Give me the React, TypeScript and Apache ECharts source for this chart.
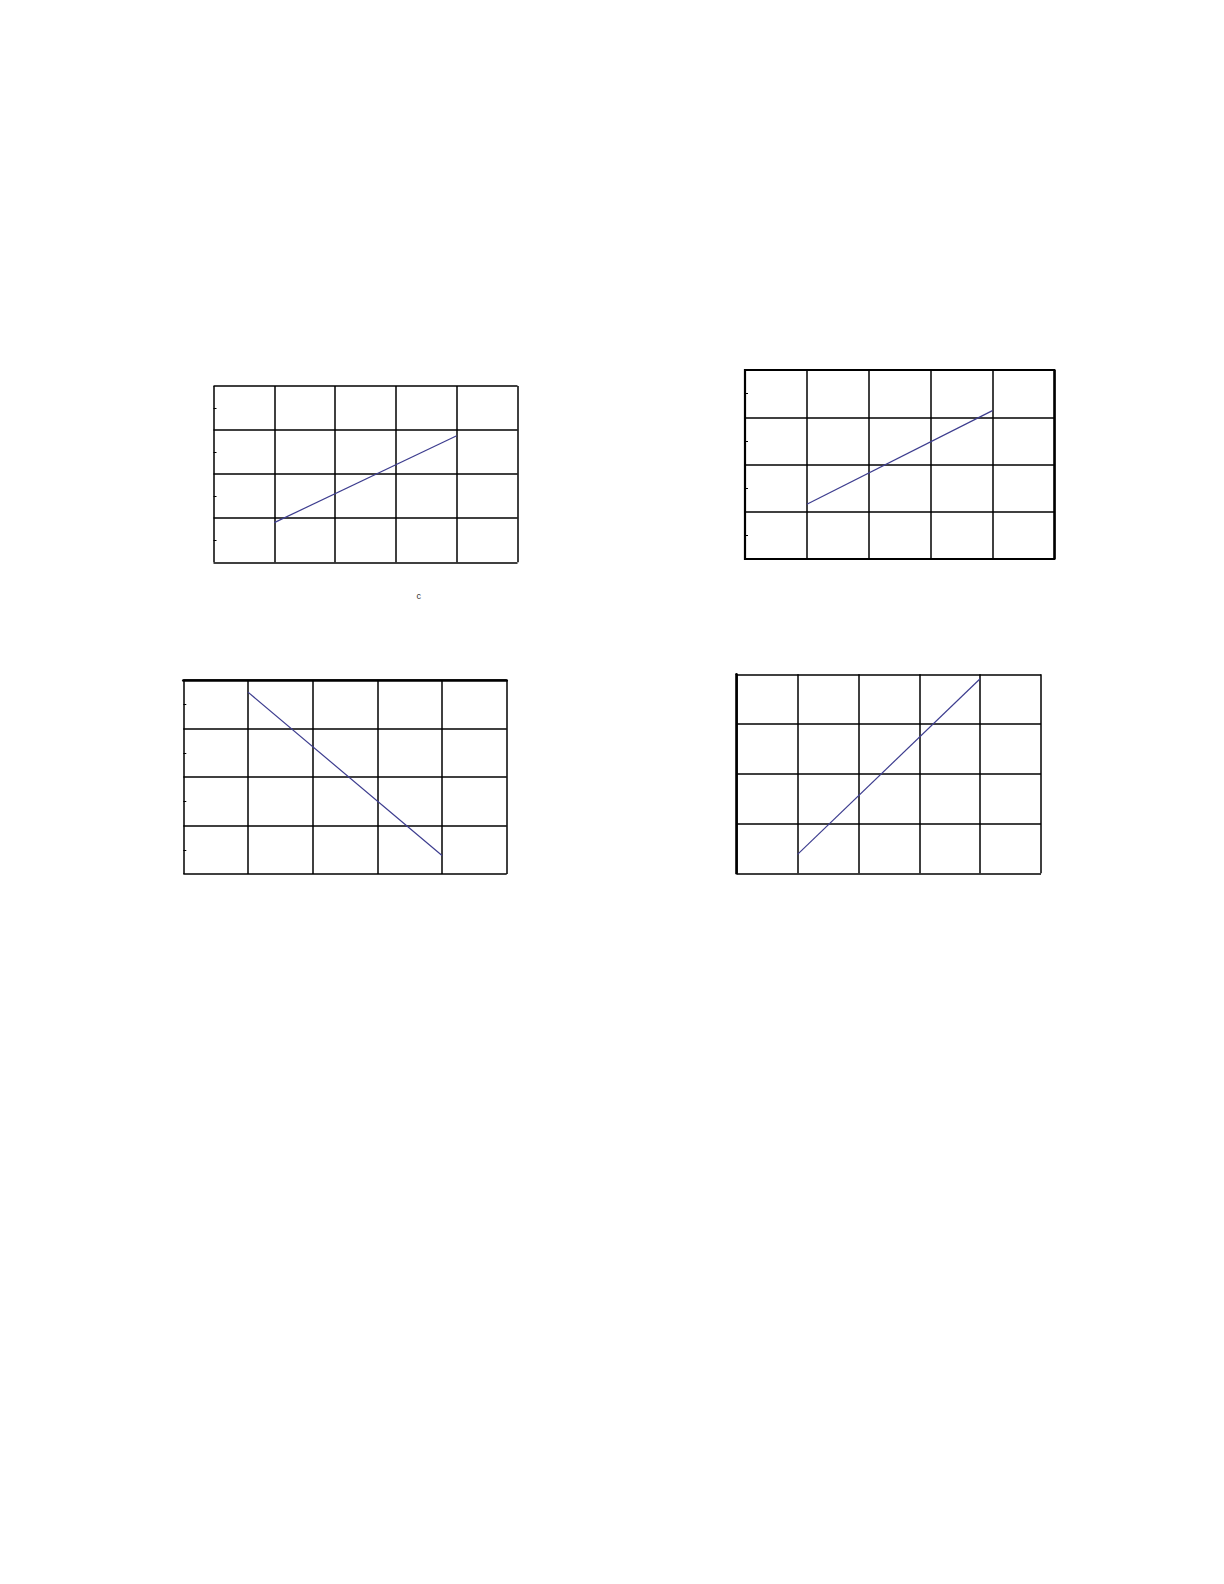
import React, { useEffect, useRef } from "react";
import * as echarts from "echarts";

// x runs 0..5 on each plot, y runs 0..4
const xRange = [0, 5];
const yRange = [0, 4];

// line end points (x, y)
const lineTopLeft = [
    [1, 0.9],
    [4, 2.87],
];
const lineTopRight = [
    [1, 1.16],
    [4, 3.14],
];
const lineBottomLeft = [
    [1, 3.75],
    [4, 0.38],
];
const lineBottomRight = [
    [1, 0.38],
    [4, 3.91],
];

const unitLabel = "c";

const panels = [
    { data: lineTopLeft, left: 213.5, top: 386, width: 304, height: 176.3, border: 0, minor: true, topAxis: false, leftThick: false },
    { data: lineTopRight, left: 745, top: 370, width: 309.3, height: 189, border: 2.2, minor: true, topAxis: false, leftThick: false },
    { data: lineBottomLeft, left: 183.3, top: 680, width: 323.4, height: 194, border: 0, minor: true, topAxis: true, leftThick: false },
    { data: lineBottomRight, left: 736.7, top: 674.3, width: 304.3, height: 199, border: 0, minor: false, topAxis: false, leftThick: true },
];

const App: React.FC = () => {
    const ref = useRef<HTMLDivElement>(null);

    useEffect(() => {
        if (!ref.current) return;
        const chart = echarts.init(ref.current, null, { renderer: "svg" });

        const grid = panels.map((p) => ({
            left: p.left,
            top: p.top,
            width: p.width,
            height: p.height,
            show: p.border > 0,
            borderColor: "#000",
            borderWidth: p.border,
            backgroundColor: "transparent",
        }));

        const xAxis = panels.map((p, i) => ({
            type: "value",
            gridIndex: i,
            min: xRange[0],
            max: xRange[1],
            interval: 1,
            position: p.topAxis ? "top" : "bottom",
            axisLine: { show: p.topAxis, onZero: false, lineStyle: { color: "#000", width: 2.6 } },
            axisTick: { show: false },
            axisLabel: { show: false },
            splitLine: { show: true, lineStyle: { color: "#000", width: 1.5 } },
        }));

        const yAxis = panels.map((p, i) => ({
            type: "value",
            gridIndex: i,
            min: yRange[0],
            max: yRange[1],
            interval: 1,
            axisLine: { show: p.leftThick, onZero: false, lineStyle: { color: "#000", width: 2.6 } },
            // ticks hidden, but "inside" also turns the minor ticks inward
            axisTick: { show: false, inside: true },
            minorTick: { show: p.minor, splitNumber: 2, length: 3, lineStyle: { color: "#000", width: 1 } },
            axisLabel: { show: false },
            splitLine: { show: true, lineStyle: { color: "#000", width: 1.5 } },
        }));

        const series = panels.map((p, i) => ({
            type: "line",
            xAxisIndex: i,
            yAxisIndex: i,
            data: p.data,
            symbol: "none",
            silent: true,
            z: 3,
            lineStyle: { color: "#3d3d8f", width: 1.2 },
        }));

        chart.setOption({
            animation: false,
            backgroundColor: "#fff",
            grid,
            xAxis,
            yAxis,
            series,
            graphic: [
                {
                    type: "text",
                    x: 418.7,
                    y: 596,
                    style: {
                        text: unitLabel,
                        fontSize: 9,
                        fontFamily: "Liberation Sans",
                        fill: "#333",
                        align: "center",
                        verticalAlign: "middle",
                    },
                },
            ],
        });

        return () => {
            chart.dispose();
        };
    }, []);

    return (
        <div
            ref={ref}
            style={{ position: "absolute", left: 0, top: 0, width: 1224, height: 1584 }}
        />
    );
};

export default App;
